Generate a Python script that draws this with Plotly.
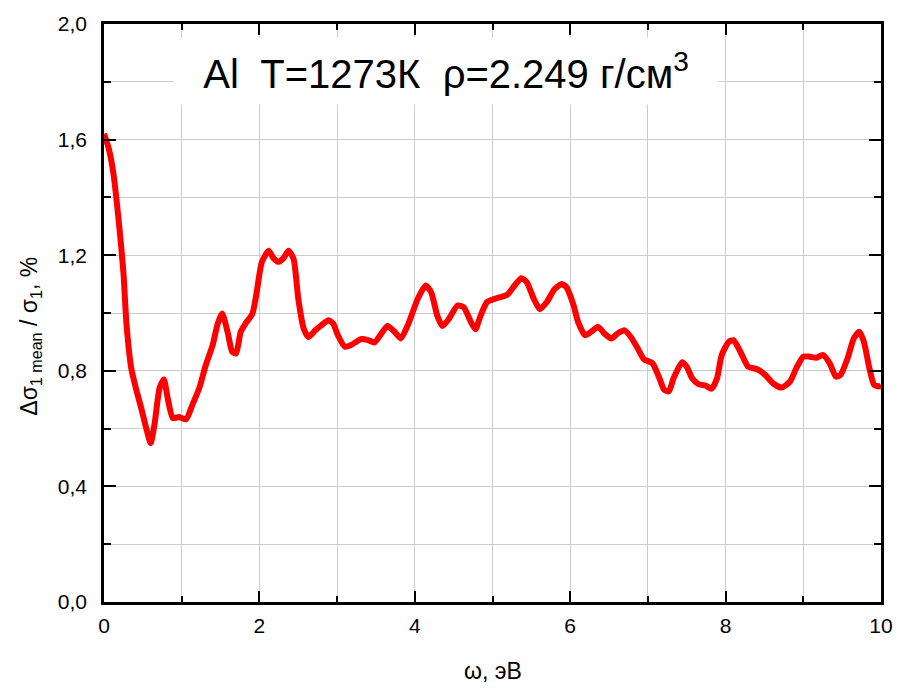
import plotly.graph_objects as go

OMEGA = [0.00, 0.06, 0.12, 0.20, 0.25, 0.29, 0.35, 0.42, 0.48, 0.545, 0.60, 0.65, 0.715, 0.77, 0.82,
         0.885, 0.97, 1.055, 1.14, 1.226, 1.31, 1.40, 1.46, 1.52, 1.59, 1.65, 1.70, 1.76, 1.82, 1.91,
         1.97, 2.03, 2.12, 2.18, 2.25, 2.31, 2.375, 2.44, 2.50, 2.57, 2.63, 2.72, 2.80, 2.89, 2.95,
         3.01, 3.10, 3.18, 3.31, 3.40, 3.48, 3.57, 3.65, 3.74, 3.82, 3.91, 4.04, 4.14, 4.21, 4.29,
         4.355, 4.44, 4.55, 4.63, 4.72, 4.78, 4.84, 4.93, 5.06, 5.19, 5.27, 5.37, 5.44, 5.53, 5.61,
         5.70, 5.80, 5.89, 5.95, 6.04, 6.10, 6.19, 6.27, 6.36, 6.44, 6.53, 6.61, 6.70, 6.78, 6.87,
         6.95, 7.06, 7.14, 7.21, 7.27, 7.33, 7.44, 7.50, 7.57, 7.65, 7.74, 7.82, 7.89, 7.95, 8.04,
         8.10, 8.19, 8.29, 8.40, 8.51, 8.61, 8.72, 8.83, 8.91, 9.00, 9.08, 9.17, 9.25, 9.34, 9.42,
         9.48, 9.57, 9.65, 9.72, 9.78, 9.85, 9.91, 9.97, 10.0]
RATIO = [1.62, 1.57, 1.485, 1.29, 1.14, 0.96, 0.81, 0.73, 0.67, 0.60, 0.55, 0.615, 0.74, 0.77, 0.705,
         0.637, 0.64, 0.632, 0.684, 0.74, 0.82, 0.89, 0.96, 0.998, 0.935, 0.866, 0.86, 0.935, 0.963, 0.998,
         1.08, 1.175, 1.215, 1.19, 1.177, 1.19, 1.215, 1.187, 1.05, 0.946, 0.917, 0.94, 0.958, 0.975, 0.963,
         0.923, 0.883, 0.889, 0.91, 0.906, 0.898, 0.929, 0.955, 0.935, 0.912, 0.958, 1.05, 1.095, 1.072, 0.99,
         0.955, 0.98, 1.026, 1.02, 0.97, 0.944, 0.986, 1.038, 1.052, 1.063, 1.09, 1.12, 1.107, 1.05, 1.013,
         1.038, 1.083, 1.10, 1.09, 1.03, 0.97, 0.923, 0.935, 0.952, 0.929, 0.912, 0.929, 0.94, 0.917, 0.877,
         0.84, 0.826, 0.78, 0.734, 0.729, 0.774, 0.83, 0.814, 0.774, 0.754, 0.749, 0.738, 0.774, 0.855, 0.90,
         0.906, 0.866, 0.814, 0.806, 0.786, 0.757, 0.742, 0.763, 0.809, 0.849, 0.849, 0.845, 0.855, 0.826, 0.78,
         0.786, 0.843, 0.912, 0.935, 0.90, 0.809, 0.752, 0.746, 0.75]

X_TICKS = [0, 2, 4, 6, 8, 10]
X_TICK_TEXT = ["0", "2", "4", "6", "8", "10"]
Y_TICKS = [0.0, 0.4, 0.8, 1.2, 1.6, 2.0]
Y_TICK_TEXT = ["0,0", "0,4", "0,8", "1,2", "1,6", "2,0"]

TITLE = "Al  T=1273К  ρ=2.249 г/см<sup>3</sup>"
X_TITLE = "ω, эВ"
Y_TITLE = "Δσ<sub>1 mean</sub> / σ<sub>1</sub>, %"

FONT = "Liberation Sans, Arial, sans-serif"
GRID = "#cccccc"

fig = go.Figure()
fig.add_trace(go.Scatter(x=OMEGA, y=RATIO, mode="lines",
                         line=dict(color="#ff0000", width=6, shape="spline", smoothing=0.6),
                         showlegend=False))

axis_common = dict(showline=True, linecolor="black", linewidth=2.5, mirror="allticks",
                   ticks="inside", tickcolor="black", tickwidth=2, zeroline=False,
                   showgrid=True, gridcolor=GRID, gridwidth=1,
                   tickfont=dict(family=FONT, size=21, color="black"))

fig.update_xaxes(range=[0, 10], tickmode="array", tickvals=X_TICKS, ticktext=X_TICK_TEXT,
                 ticklen=11, ticklabelstandoff=3,
                 minor=dict(tickmode="linear", tick0=0, dtick=1, ticks="inside", ticklen=6,
                            tickcolor="black", tickwidth=2, showgrid=True, gridcolor=GRID, gridwidth=1),
                 **axis_common)
fig.update_yaxes(range=[0, 2], tickmode="array", tickvals=Y_TICKS, ticktext=Y_TICK_TEXT,
                 ticklen=12, ticklabelstandoff=10,
                 minor=dict(tickmode="linear", tick0=0, dtick=0.2, ticks="inside", ticklen=7,
                            tickcolor="black", tickwidth=2, showgrid=True, gridcolor=GRID, gridwidth=1),
                 **axis_common)

fig.add_annotation(text=TITLE, xref="paper", yref="paper", x=0.4406, y=0.918,
                   xanchor="center", yanchor="middle", showarrow=False,
                   bgcolor="white", width=542, height=64,
                   font=dict(family=FONT, size=40, color="black"))
fig.add_annotation(text=X_TITLE, xref="paper", yref="paper", x=0.50, y=-0.120,
                   xanchor="center", yanchor="middle", showarrow=False,
                   font=dict(family=FONT, size=23, color="black"))
fig.add_annotation(text=Y_TITLE, xref="paper", yref="paper", x=-0.0945, y=0.46,
                   xanchor="center", yanchor="middle", showarrow=False, textangle=-90,
                   font=dict(family=FONT, size=23, color="black"))

fig.update_layout(width=905, height=691, margin=dict(l=104, r=18, t=20, b=89),
                  paper_bgcolor="white", plot_bgcolor="white",
                  font=dict(family=FONT, color="black"))

fig.write_html("out.html")
